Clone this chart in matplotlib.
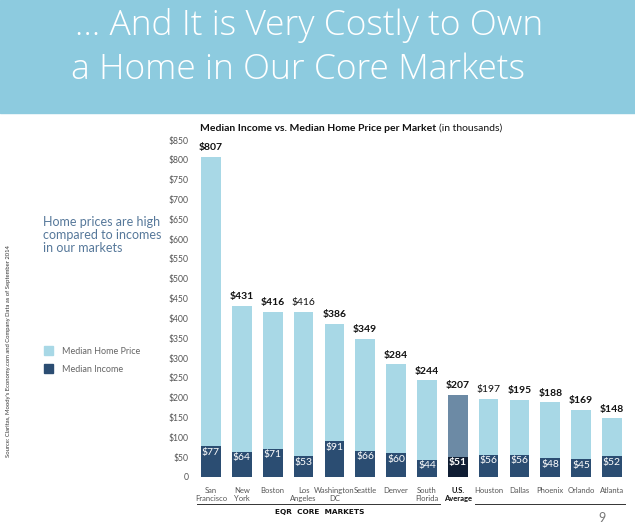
import matplotlib.pyplot as plt
from matplotlib.patches import Rectangle
from matplotlib.lines import Line2D

markets = ["San\nFrancisco", "New\nYork", "Boston", "Los\nAngeles", "Washington\nDC",
           "Seattle", "Denver", "South\nFlorida", "U.S.\nAverage", "Houston", "Dallas",
           "Phoenix", "Orlando", "Atlanta"]
home_price = [807, 431, 416, 416, 386, 349, 284, 244, 207, 197, 195, 188, 169, 148]
income = [77, 64, 71, 53, 91, 66, 60, 44, 51, 56, 56, 48, 45, 52]
y_ticks = list(range(0, 851, 50))
y_tick_labels = ["0"] + [f"${v}" for v in y_ticks[1:]]

LIGHT = "#a8d8e6"
NAVY = "#2b4d72"
US_LIGHT = "#6c8aa5"
US_DARK = "#0f1d33"
GREY = "#555555"

plt.rcParams["font.family"] = ["Lato", "DejaVu Sans"]

fig = plt.figure(figsize=(6.35, 5.28), dpi=100)

# banner
fig.patches.append(Rectangle((0, 0.786), 1, 0.214, transform=fig.transFigure,
                             color="#8dcbdf", zorder=0))
fig.text(0.118, 0.952, "\u2026 And It is Very Costly to Own", color="white",
         fontsize=25.5, fontweight="light", va="center", ha="left", family="Open Sans")
fig.text(0.112, 0.868, "a Home in Our Core Markets", color="white",
         fontsize=25.5, fontweight="light", va="center", ha="left", family="Open Sans")

ax = fig.add_axes([0.308, 0.0966, 0.680, 0.6382])
n = len(markets)
x = list(range(n))
us = markets.index("U.S.\nAverage")
price_colors = [US_LIGHT if i == us else LIGHT for i in x]
income_colors = [US_DARK if i == us else NAVY for i in x]

ax.bar(x, home_price, width=0.64, color=price_colors, zorder=2)
ax.bar(x, income, width=0.64, color=income_colors, zorder=3)

regular = {3, 9}
for i in x:
    ax.text(i, home_price[i] + 12, f"${home_price[i]}", ha="center", va="bottom",
            fontsize=7.5, fontweight="normal" if i in regular else "bold", color="#111111")
    ax.text(i, income[i] - 4, f"${income[i]}", ha="center", va="top",
            fontsize=7.5, fontweight="bold" if i == us else "normal", color="white", zorder=4)

ax.set_xlim(-0.5, n - 0.5)
ax.set_ylim(0, 850)
ax.set_yticks(y_ticks)
ax.set_yticklabels(y_tick_labels)
ax.set_xticks(x)
ax.set_xticklabels(markets)
ax.tick_params(axis="y", length=0, pad=5, labelsize=6.2, labelcolor=GREY)
ax.tick_params(axis="x", length=0, pad=7, labelsize=5.5, labelcolor=GREY)
for lbl in ax.get_xticklabels():
    lbl.set_linespacing(1.15)
    if "Average" in lbl.get_text():
        lbl.set_fontweight("bold")
        lbl.set_color("#111111")
for s in ax.spines.values():
    s.set_visible(False)

# chart title: bold part followed by regular part
t1 = fig.text(0.315, 0.748, "Median Income vs. Median Home Price per Market ",
              fontsize=7.5, fontweight="bold", ha="left", va="bottom", color="#111111")
fig.canvas.draw()
bb = t1.get_window_extent(renderer=fig.canvas.get_renderer())
fig.text(bb.x1 / fig.bbox.width, 0.748, "(in thousands)", fontsize=7.5, ha="left",
         va="bottom", color="#111111")

# group underlines
fig.add_artist(Line2D([0.31, 0.693], [0.0455, 0.0455], color="#333333", lw=0.7))
fig.add_artist(Line2D([0.748, 0.984], [0.0455, 0.0455], color="#333333", lw=0.7))
fig.text(0.504, 0.030, "EQR  CORE  MARKETS", fontsize=5.3, fontweight="bold", ha="center",
         va="center", color="#111111", family="DejaVu Sans")

# left annotation
fig.text(0.068, 0.555, "Home prices are high\ncompared to incomes\nin our markets",
         fontsize=9, color="#56789a", ha="left", va="center", linespacing=1.1)

# legend
fig.patches.append(Rectangle((0.070, 0.327), 0.014, 0.017, transform=fig.transFigure,
                             color=LIGHT))
fig.patches.append(Rectangle((0.070, 0.293), 0.014, 0.017, transform=fig.transFigure,
                             color=NAVY))
fig.text(0.098, 0.335, "Median Home Price", fontsize=6.5, color="#666666", va="center")
fig.text(0.098, 0.301, "Median Income", fontsize=6.5, color="#666666", va="center")

fig.text(0.013, 0.335, "Source: Claritas, Moody's Economy.com and Company Data as of September 2014",
         rotation=90, fontsize=4.2, color="#333333", ha="center", va="center")

fig.text(0.948, 0.019, "9", fontsize=9, color="#777777", ha="center", va="center")

fig.savefig("out.png", dpi=100)
